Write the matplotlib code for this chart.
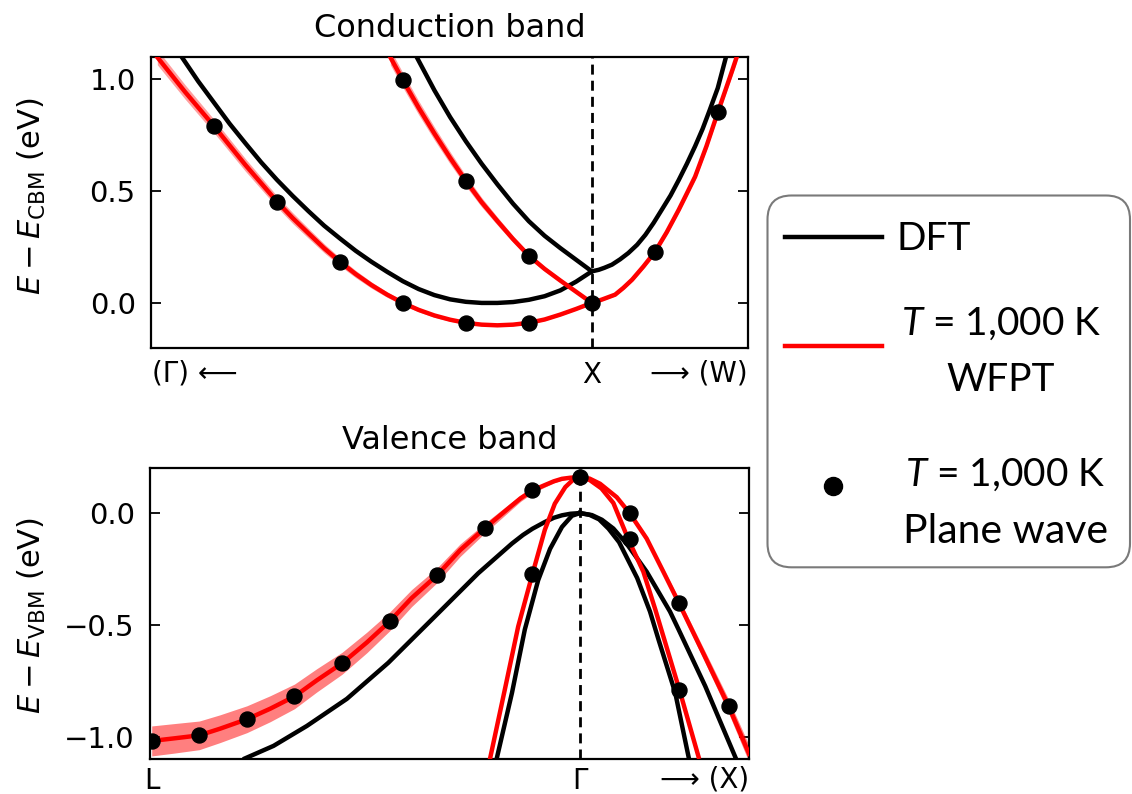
import matplotlib
matplotlib.use("Agg")
import numpy as np
import matplotlib.pyplot as plt
import matplotlib.transforms as mtransforms
from matplotlib.patches import FancyBboxPatch
from matplotlib.lines import Line2D

# ---------------- Conduction band panel (Γ ← X → W), E - E_CBM in eV ----------------
cb_dot_k = [1, 2, 3, 4, 5, 6, 7, 8, 9]
cb_dot_e = [0.790, 0.453, 0.184, 0.000, -0.089, -0.089, 0.000, 0.227, 0.851]
cb_dot2_k = [4, 5, 6]
cb_dot2_e = [0.995, 0.545, 0.211]

cb_dft1_k = [0.49, 0.75, 1.00, 1.25, 1.50, 1.75, 2.00, 2.25, 2.50, 2.75, 3.00, 3.25, 3.50, 3.75,
             4.00, 4.25, 4.50, 4.75, 5.00, 5.25, 5.50, 5.75, 6.00, 6.25, 6.50, 6.75, 7.00]
cb_dft1_e = [1.098, 0.990, 0.895, 0.800, 0.713, 0.628, 0.550, 0.478, 0.410, 0.345, 0.288, 0.233, 0.184, 0.139,
             0.097, 0.062, 0.035, 0.016, 0.005, 0.000, 0.000, 0.004, 0.014, 0.030, 0.056, 0.095, 0.141]
cb_dft2_k = [4.22, 4.50, 4.75, 5.00, 5.25, 5.50, 5.75, 6.00, 6.25, 6.50, 6.75, 7.00]
cb_dft2_e = [1.098, 0.950, 0.830, 0.722, 0.622, 0.530, 0.443, 0.365, 0.300, 0.245, 0.193, 0.141]
cb_dft3_k = [7.00, 7.11, 7.20, 7.32, 7.45, 7.58, 7.72, 7.85, 7.98, 8.11, 8.25, 8.38, 8.51, 8.64, 8.76, 8.87, 9.00, 9.13]
cb_dft3_e = [0.141, 0.148, 0.157, 0.171, 0.195, 0.223, 0.260, 0.304, 0.357, 0.416, 0.480, 0.549, 0.622, 0.700, 0.778, 0.860, 0.960, 1.098]

cb_wf1_k = [0.10, 0.54, 1.00, 1.50, 2.00, 2.25, 2.50, 2.75, 3.00, 3.25, 3.50, 3.75, 4.00, 4.25,
            4.50, 4.75, 5.00, 5.25, 5.50, 5.75, 6.00, 6.25, 6.50, 6.75, 7.00]
cb_wf1_e = [1.098, 0.943, 0.790, 0.616, 0.453, 0.379, 0.311, 0.244, 0.184, 0.129, 0.080, 0.037, 0.000, -0.031,
            -0.056, -0.075, -0.089, -0.097, -0.100, -0.097, -0.089, -0.074, -0.052, -0.027, 0.000]
cb_wf1_u = [0.034, 0.032, 0.030, 0.028, 0.025, 0.024, 0.022, 0.020, 0.018, 0.016, 0.014, 0.012, 0.010, 0.009,
            0.008, 0.007, 0.006, 0.005, 0.005, 0.005, 0.005, 0.005, 0.005, 0.005, 0.005]
cb_wf2_k = [3.80, 4.00, 4.25, 4.50, 4.75, 5.00, 5.25, 5.50, 5.75, 6.00, 6.25, 6.50, 6.75, 7.00]
cb_wf2_e = [1.098, 0.995, 0.872, 0.757, 0.648, 0.545, 0.450, 0.366, 0.285, 0.211, 0.152, 0.100, 0.050, 0.000]
cb_wf2_u = [0.034, 0.033, 0.031, 0.029, 0.027, 0.024, 0.021, 0.018, 0.015, 0.013, 0.011, 0.009, 0.007, 0.005]
cb_wf3_k = [7.00, 7.16, 7.37, 7.50, 7.64, 7.82, 8.00, 8.19, 8.38, 8.50, 8.64, 8.82, 9.00, 9.23, 9.30]
cb_wf3_e = [0.000, 0.015, 0.037, 0.067, 0.104, 0.163, 0.227, 0.316, 0.416, 0.484, 0.564, 0.700, 0.851, 1.039, 1.098]
cb_wf3_u = [0.005, 0.005, 0.006, 0.007, 0.008, 0.009, 0.010, 0.011, 0.012, 0.013, 0.014, 0.016, 0.018, 0.020, 0.020]

# ---------------- Valence band panel (L → Γ → X), E - E_VBM in eV ----------------
vb_dot_k = [0, 1, 2, 3, 4, 5, 6, 7, 8, 9, 10.04, 11.08, 12.12]
vb_dot_e = [-1.018, -0.993, -0.921, -0.819, -0.671, -0.484, -0.277, -0.067, 0.101, 0.160, 0.000, -0.403, -0.862]
vb_dot2_k = [8, 10.04, 11.08]
vb_dot2_e = [-0.272, -0.118, -0.791]

vb_dft1_k = [1.96, 2.56, 3.26, 4.10, 4.97, 5.95, 6.86, 7.57, 7.80, 8.00, 8.26, 8.45, 8.62, 8.80, 9.00]
vb_dft1_e = [-1.096, -1.040, -0.951, -0.830, -0.669, -0.462, -0.269, -0.136, -0.098, -0.070, -0.040, -0.021, -0.010, -0.003, 0.000]
vb_dft2_k = [7.25, 7.57, 7.84, 8.12, 8.37, 8.62, 8.83, 9.00]
vb_dft2_e = [-1.096, -0.803, -0.520, -0.300, -0.160, -0.062, -0.012, 0.000]
vb_dft3_k = [9.00, 9.25, 9.46, 9.70, 9.99, 10.40, 10.89, 11.07, 11.63, 12.26]
vb_dft3_e = [0.000, -0.009, -0.030, -0.069, -0.140, -0.262, -0.440, -0.520, -0.773, -1.089]
vb_dft4_k = [9.00, 9.20, 9.40, 9.60, 9.82, 10.20, 10.47, 10.65, 11.00, 11.28]
vb_dft4_e = [0.000, -0.008, -0.028, -0.070, -0.130, -0.290, -0.440, -0.566, -0.803, -1.089]

vb_wf1_k = [0.00, 0.45, 1.00, 1.44, 2.00, 2.49, 3.00, 3.47, 4.00, 4.52, 5.00, 5.46, 6.00, 6.48, 7.00, 7.50, 7.75,
            8.00, 8.26, 8.45, 8.62, 8.80, 9.00]
vb_wf1_e = [-1.018, -1.007, -0.993, -0.963, -0.921, -0.874, -0.819, -0.747, -0.671, -0.578, -0.484, -0.380, -0.277,
            -0.166, -0.067, 0.022, 0.066, 0.101, 0.125, 0.142, 0.153, 0.158, 0.160]
vb_wf1_u = [0.067, 0.066, 0.064, 0.062, 0.060, 0.058, 0.055, 0.052, 0.049, 0.046, 0.042, 0.038, 0.033, 0.028, 0.022,
            0.017, 0.014, 0.012, 0.009, 0.007, 0.006, 0.005, 0.004]
vb_wf2_k = [7.11, 7.42, 7.70, 8.00, 8.26, 8.47, 8.69, 8.85, 9.00]
vb_wf2_e = [-1.096, -0.788, -0.507, -0.272, -0.075, 0.042, 0.116, 0.148, 0.160]
vb_wf2_u = [0.012, 0.011, 0.010, 0.008, 0.006, 0.005, 0.004, 0.004, 0.004]
vb_wf3_k = [9.00, 9.20, 9.42, 9.77, 10.04, 10.40, 10.75, 11.08, 11.62, 12.12, 12.55]
vb_wf3_e = [0.160, 0.154, 0.131, 0.071, 0.000, -0.114, -0.262, -0.403, -0.640, -0.862, -1.075]
vb_wf3_u = [0.004, 0.004, 0.005, 0.007, 0.009, 0.012, 0.015, 0.019, 0.025, 0.031, 0.038]
vb_wf4_k = [9.00, 9.20, 9.45, 9.70, 10.02, 10.33, 10.58, 11.09, 11.49]
vb_wf4_e = [0.160, 0.148, 0.110, 0.045, -0.120, -0.262, -0.430, -0.791, -1.089]
vb_wf4_u = [0.004, 0.005, 0.006, 0.007, 0.009, 0.011, 0.013, 0.016, 0.019]

# ---------------- labels ----------------
cb_title = "Conduction band"
vb_title = "Valence band"
cb_ylabel = r"$E - E_{\mathrm{CBM}}$ (eV)"
vb_ylabel = r"$E - E_{\mathrm{VBM}}$ (eV)"
cb_yticks = [0.0, 0.5, 1.0]
vb_yticks = [-1.0, -0.5, 0.0]
cb_kX = 7
vb_kG = 9
legend_labels = ["DFT", "$T$ = 1,000 K\nWFPT", "$T$ = 1,000 K\nPlane wave"]

plt.rcParams["mathtext.fontset"] = "dejavusans"
plt.rcParams["mathtext.it"] = "Lato:italic"
plt.rcParams["mathtext.rm"] = "Lato"
plt.rcParams["mathtext.sf"] = "Lato"
plt.rcParams["mathtext.bf"] = "Lato:bold"

W, H = 1132, 794
fig = plt.figure(figsize=(W / 100, H / 100), dpi=100)
ax1 = fig.add_axes([151 / W, 1 - 347.7 / H, 597 / W, 291 / H])
ax2 = fig.add_axes([150 / W, 1 - 759.3 / H, 599 / W, 291 / H])

LW = 3.2
MS = 10.8
RED = "#ff0000"


def band(ax, k, e, color, u=None, alpha=0.45):
    k = np.asarray(k)
    e = np.asarray(e)
    if u is not None:
        u = np.asarray(u)
        ax.fill_between(k, e - u, e + u, color=RED, alpha=alpha, lw=0, zorder=2)
    ax.plot(k, e, color=color, lw=LW, solid_joinstyle="round", zorder=3)


# --- top panel
for k, e in [(cb_dft1_k, cb_dft1_e), (cb_dft2_k, cb_dft2_e), (cb_dft3_k, cb_dft3_e)]:
    band(ax1, k, e, "black")
for k, e, u in [(cb_wf1_k, cb_wf1_e, cb_wf1_u), (cb_wf2_k, cb_wf2_e, cb_wf2_u), (cb_wf3_k, cb_wf3_e, cb_wf3_u)]:
    band(ax1, k, e, RED, u, alpha=0.38)
ax1.axvline(cb_kX, color="black", lw=2.0, ls=(0, (3.6, 2.2)), zorder=1)
ax1.plot(cb_dot_k, cb_dot_e, "o", color="black", ms=MS, zorder=5)
ax1.plot(cb_dot2_k, cb_dot2_e, "o", color="black", ms=MS, zorder=5)
ax1.set_xlim(0.0, 9.48)
ax1.set_ylim(-0.2, 1.1)
ax1.set_yticks(cb_yticks)

# --- bottom panel
for k, e in [(vb_dft1_k, vb_dft1_e), (vb_dft2_k, vb_dft2_e), (vb_dft3_k, vb_dft3_e), (vb_dft4_k, vb_dft4_e)]:
    band(ax2, k, e, "black")
for k, e, u in [(vb_wf1_k, vb_wf1_e, vb_wf1_u), (vb_wf2_k, vb_wf2_e, vb_wf2_u),
                (vb_wf3_k, vb_wf3_e, vb_wf3_u), (vb_wf4_k, vb_wf4_e, vb_wf4_u)]:
    band(ax2, k, e, RED, u, alpha=0.5)
ax2.axvline(vb_kG, color="black", lw=2.0, ls=(0, (3.6, 2.2)), zorder=1)
ax2.plot(vb_dot_k, vb_dot_e, "o", color="black", ms=MS, zorder=5)
ax2.plot(vb_dot2_k, vb_dot2_e, "o", color="black", ms=MS, zorder=5)
ax2.set_xlim(-0.036, 12.55)
ax2.set_ylim(-1.1, 0.2)
ax2.set_yticks(vb_yticks)

for ax in (ax1, ax2):
    ax.set_xticks([])
    ax.tick_params(axis="y", direction="in", length=7, width=1.3, right=True,
                   labelsize=21, pad=11)
    for s in ax.spines.values():
        s.set_linewidth(1.6)

ax1.set_title(cb_title, fontsize=23, pad=14)
ax2.set_title(vb_title, fontsize=23, pad=14)

# x-axis point labels
XLF = 20
tb1 = mtransforms.blended_transform_factory(ax1.transData, ax1.transAxes)
ax1.text(0.002, -0.04, "(Γ) ⟵", transform=ax1.transAxes, ha="left", va="top", fontsize=XLF)
ax1.text(cb_kX, -0.046, "X", transform=tb1, ha="center", va="top", fontsize=XLF)
ax1.text(1.0, -0.04, "⟶ (W)", transform=ax1.transAxes, ha="right", va="top", fontsize=XLF)
tb2 = mtransforms.blended_transform_factory(ax2.transData, ax2.transAxes)
ax2.text(0, -0.026, "L", transform=tb2, ha="center", va="top", fontsize=XLF)
ax2.text(vb_kG, -0.026, "Γ", transform=tb2, ha="center", va="top", fontsize=XLF)
ax2.text(1.0, -0.022, "⟶ (X)", transform=ax2.transAxes, ha="right", va="top", fontsize=XLF)

# y labels
fig.text(31.5 / W, 1 - 196 / H, cb_ylabel, rotation=90, ha="center", va="center", fontsize=22)
fig.text(31.5 / W, 1 - 616 / H, vb_ylabel, rotation=90, ha="center", va="center", fontsize=22)

# ---------------- legend (drawn in pixel space) ----------------
ID = mtransforms.IdentityTransform()


def py(y):
    return H - y


box = FancyBboxPatch((767.5, py(567.3)), 1130 - 767.5, 567.3 - 195.5,
                     boxstyle="round,pad=0,rounding_size=24", transform=ID,
                     facecolor="white", edgecolor="#7a7a7a", lw=1.5)
fig.add_artist(box)
fig.add_artist(Line2D([785, 882], [py(236.7), py(236.7)], color="black", lw=3.2, transform=ID))
fig.add_artist(Line2D([785, 882], [py(346), py(346)], color=RED, lw=3.2, transform=ID))
fig.add_artist(Line2D([833.3], [py(486)], marker="o", ms=13, color="black", lw=0, transform=ID))

LF = 28
lkw = dict(transform=ID, fontsize=LF, family="Lato", math_fontfamily="custom", va="baseline")
fig.text(896.7, py(250), legend_labels[0], ha="left", **lkw)
l1a, l1b = legend_labels[1].split("\n")
fig.text(1000.7, py(335), l1a, ha="center", **lkw)
fig.text(1001, py(390.7), l1b, ha="center", **lkw)
l2a, l2b = legend_labels[2].split("\n")
fig.text(1005, py(486), l2a, ha="center", **lkw)
fig.text(1005.5, py(543.3), l2b, ha="center", fontsize=29.5, transform=ID, family="Lato", va="baseline")

fig.savefig("out.png", dpi=100)
